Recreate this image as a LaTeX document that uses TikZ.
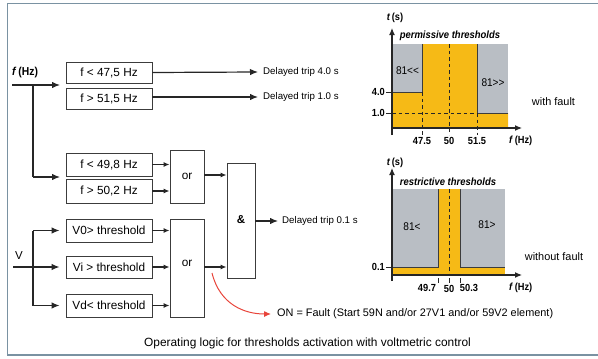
\documentclass[tikz,border=0pt]{standalone}
\usepackage{fontspec}
\setmainfont{Liberation Sans}
\newfontfamily\cond[FakeStretch=0.9]{Liberation Sans}
\usetikzlibrary{arrows.meta,calc}
\definecolor{frame}{RGB}{122,146,162}
\definecolor{ylw}{RGB}{246,186,22}
\definecolor{gry}{RGB}{185,190,196}
\definecolor{edge}{RGB}{60,60,60}
\definecolor{redarr}{RGB}{232,68,58}
\tikzset{
  lbox/.style={draw=edge,line width=0.9pt,fill=white,inner sep=0pt,font=\fontsize{11.8}{13}\selectfont},
  gate/.style={draw=edge,line width=0.9pt,fill=white,inner sep=0pt,font=\fontsize{11.8}{13}\selectfont},
  wire/.style={draw=black!85,line width=1.2pt},
  arr/.style={wire,-{Latex[length=8pt,width=6.5pt]}},
  sarr/.style={wire,-{Latex[length=6pt,width=5pt]}},
  outtxt/.style={inner sep=0pt,anchor=west,font=\fontsize{9.7}{11}\selectfont},
  axlbl/.style={inner sep=0pt,font=\cond\bfseries\fontsize{10.3}{12}\selectfont},
  zone/.style={inner sep=0pt,font=\cond\fontsize{11.2}{13}\selectfont},
  dsh/.style={draw=black!85,line width=0.9pt,dash pattern=on 3.5pt off 3pt},
  stepline/.style={draw=edge,line width=0.8pt},
  axis/.style={draw=black!85,line width=1.1pt,-{Latex[length=7pt,width=6pt]}},
}
\begin{document}
\begin{tikzpicture}[x=1pt,y=-1pt]
\useasboundingbox (0,0) rectangle (598,359);
% frame
\draw[frame,line width=1.8pt] (598,3.5) -- (7.5,3.5) -- (7.5,355) -- (598,355);

% ---------- frequency input ----------
\node[inner sep=0pt,anchor=west,font=\cond\bfseries\fontsize{11.5}{13}\selectfont] (fin) at (12,73) {\textit{f}\,(Hz)};
\coordinate (fst) at (12,85);
\coordinate (fj) at (33,85);
\coordinate (fa) at (60,85);
\coordinate (fj2) at (33,177);
\coordinate (fb) at (60,177);
\draw[wire] (fst) -- (fj);
\draw[arr] (fj) -- (fa);
\draw[wire] (fj) -- (fj2);
\draw[arr] (fj2) -- (fb);

\node[lbox,minimum width=86pt,minimum height=21pt] (f1) at (109,72.5) {f < 47,5 Hz};
\node[lbox,minimum width=86pt,minimum height=21pt] (f2) at (109,98.5) {f > 51,5 Hz};
\node[lbox,minimum width=86pt,minimum height=23pt] (f3) at (109,164.5) {f < 49,8 Hz};
\node[lbox,minimum width=86pt,minimum height=24pt] (f4) at (109,191) {f > 50,2 Hz};

\node[outtxt] (d1) at (263,72) {Delayed trip 4.0 s};
\node[outtxt] (d2) at (263,97) {Delayed trip 1.0 s};
\draw[arr] (f1.east) -- ($(d1.west)+(-5,0)$);
\draw[arr] (f2.east |- d2.west) -- ($(d2.west)+(-5,0)$);

\node[gate,minimum width=34pt,minimum height=53pt] (or1) at (187,176.5) {or};
\draw[sarr] (f3.east) -- (f3.east -| or1.west);
\draw[sarr] (f4.east) -- (f4.east -| or1.west);

% ---------- voltage input ----------
\node[inner sep=0pt,anchor=west,font=\fontsize{11.5}{14}\selectfont] (vin) at (15,256) {V};
\coordinate (vst) at (13,267);
\coordinate (vj) at (33,267);
\coordinate (vjt) at (33,230.5);
\coordinate (vjb) at (33,305.5);
\node[lbox,minimum width=86pt,minimum height=23pt] (v1) at (109,230.5) {V0> threshold};
\node[lbox,minimum width=86pt,minimum height=22pt] (v2) at (109,267) {Vi > threshold};
\node[lbox,minimum width=86pt,minimum height=23pt] (v3) at (109,305.5) {Vd< threshold};
\draw[wire] (vjt) -- (vjb);
\draw[arr] (vst) -- ($(v2.west)+(-6,0)$);
\draw[arr] (vjt) -- ($(v1.west)+(-6,0)$);
\draw[arr] (vjb) -- ($(v3.west)+(-6,0)$);

\node[gate,minimum width=34pt,minimum height=98pt] (or2) at (187,268) {};
\node[inner sep=0pt,font=\fontsize{11.8}{13}\selectfont] (or2t) at (187,263) {or};
\draw[sarr] (v1.east) -- (v1.east -| or2.west);
\draw[sarr] (v2.east) -- (v2.east -| or2.west);
\draw[sarr] (v3.east) -- (v3.east -| or2.west);

\node[gate,minimum width=28pt,minimum height=115pt] (and) at (241,220.5) {};
\node[inner sep=0pt,font=\bfseries\fontsize{11.5}{13}\selectfont] (andt) at (241,220) {\&};
\draw[sarr] (or1.east |- 0,175) -- (and.west |- 0,175);
\draw[sarr] (or2.east |- 0,267) -- (and.west |- 0,267);

\node[outtxt] (d3) at (282,221) {Delayed trip 0.1 s};
\draw[arr] (and.east |- d3.west) -- ($(d3.west)+(-4,0)$);

\coordinate (rst) at (212,273);
\node[outtxt,font=\fontsize{10.9}{12}\selectfont] (on) at (277,314) {ON = Fault (Start 59N and/or 27V1 and/or 59V2 element)};
\draw[redarr,line width=1pt,-{Latex[length=7pt,width=6pt]}] (rst) .. controls (220,305) and (245,314) .. ($(on.west)+(-6,0)$);

\node[inner sep=0pt,font=\fontsize{11.9}{13}\selectfont] (cap) at (307.5,343) {Operating logic for thresholds activation with voltmetric control};

% ---------- permissive chart ----------
\fill[gry] (392,44) rectangle (508,128);
\fill[ylw] (392,128) -- (392,92) -- (422,92) -- (422,44) -- (477,44) -- (477,113) -- (508,113) -- (508,128) -- cycle;
\draw[stepline] (392,92) -- (422,92) -- (422,44);
\draw[stepline] (477,44) -- (477,113) -- (508,113);
\draw[dsh] (422,92) -- (422,135);
\draw[dsh] (449,44) -- (449,135);
\draw[dsh] (477,113) -- (477,135);
\draw[dsh] (392,113) -- (477,113);
\draw[axis] (392,135) -- (392,28);
\draw[axis] (392,128) -- (522,128);
\draw[draw=black!85,line width=1pt] (386,92) -- (392,92);
\draw[draw=black!85,line width=1pt] (386,113) -- (392,113);
\node[axlbl] (pt) at (395,18) {\textit{t}\,(s)};
\node[axlbl,font=\cond\bfseries\itshape\fontsize{10.5}{12}\selectfont] (ptitle) at (450,36) {permissive thresholds};
\node[axlbl,anchor=east] (p40) at (385,91.5) {4.0};
\node[axlbl,anchor=east] (p10) at (385,112.5) {1.0};
\node[axlbl] (p475) at (422,141) {47.5};
\node[axlbl] (p50) at (449,141) {50};
\node[axlbl] (p515) at (477,141) {51.5};
\node[axlbl,anchor=west] (pfz) at (509,141) {\textit{f}\,(Hz)};
\node[zone] (z1) at (407.5,71) {81<<};
\node[zone] (z2) at (493,83) {81>>};
\node[inner sep=0pt,font=\fontsize{10.9}{12}\selectfont] (wf) at (553.5,102) {with fault};

% ---------- restrictive chart ----------
\fill[gry] (392,189) rectangle (505,275);
\fill[ylw] (392,267) rectangle (505,275);
\fill[ylw] (438,189) rectangle (460,275);
\draw[stepline] (392,267) -- (438,267) -- (438,189);
\draw[stepline] (460,189) -- (460,267) -- (505,267);
\draw[dsh] (449,189) -- (449,275);
\foreach \xx in {438,449,460} \draw[draw=black!85,line width=1pt] (\xx,278) -- (\xx,283);
\draw[axis] (392,281) -- (392,168);
\draw[axis] (392,275) -- (522,275);
\draw[draw=black!85,line width=1pt] (386,267) -- (392,267);
\node[axlbl] (rt) at (395,163) {\textit{t}\,(s)};
\node[axlbl,font=\cond\bfseries\itshape\fontsize{10.5}{12}\selectfont] (rtitle) at (448,182) {restrictive thresholds};
\node[axlbl,anchor=east] (r01) at (385,266.5) {0.1};
\node[axlbl] (r497) at (427,288) {49.7};
\node[axlbl] (r50) at (449,289) {50};
\node[axlbl] (r503) at (469,288) {50.3};
\node[axlbl,anchor=west] (rfz) at (509,288) {\textit{f}\,(Hz)};
\node[zone] (z3) at (412,227) {81<};
\node[zone] (z4) at (487,225) {81>};
\node[inner sep=0pt,font=\fontsize{10.9}{12}\selectfont] (wof) at (554,257) {without fault};
\end{tikzpicture}
\end{document}
